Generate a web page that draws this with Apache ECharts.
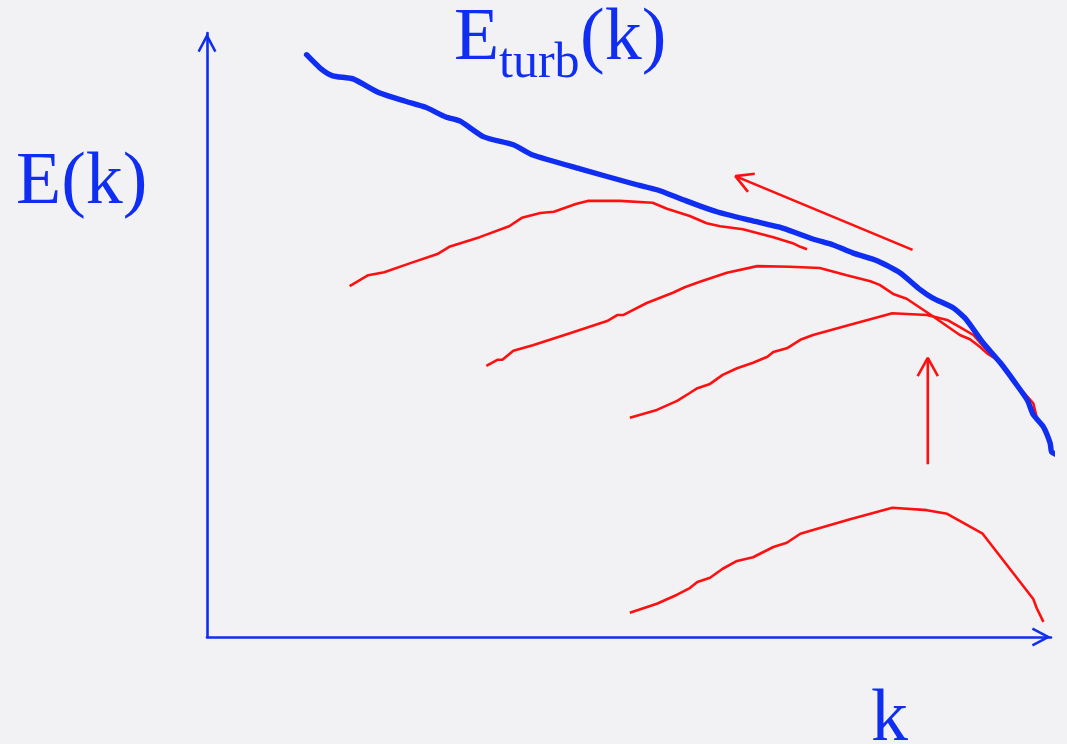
<!DOCTYPE html>
<html>
<head>
<meta charset="utf-8">
<script src="https://cdn.jsdelivr.net/npm/echarts@6/dist/echarts.min.js"></script>
<style>
  html, body { margin: 0; padding: 0; background: #f2f2f4; }
  #chart { width: 1067px; height: 744px; }
</style>
</head>
<body>
<div id="chart"></div>
<script>
// Energy spectra sketch: wavenumber k (0-100) against spectral energy E (0-100)

// Turbulent spectrum E_turb(k): [k, E]
const turbSpectrum = [
  [11.8, 96.4], [13.4, 94.2], [14.9, 92.9], [17.3, 92.4], [20.4, 90.1], [23.5, 88.7],
  [25.9, 87.7], [28.3, 86.1], [30.0, 85.4], [32.8, 82.8], [36.3, 81.5], [38.6, 79.8],
  [44.2, 77.5], [50.6, 75.0], [53.4, 74.0], [56.4, 72.4], [60.4, 70.4], [64.3, 69.0],
  [68.2, 67.7], [71.8, 65.9], [74.2, 64.9], [76.5, 63.6], [79.4, 62.3], [82.1, 60.3],
  [84.5, 57.5], [86.0, 56.1], [88.4, 54.5], [90.0, 52.5], [91.9, 48.8], [94.0, 45.4],
  [95.7, 42.2], [97.2, 39.2], [97.9, 36.8], [99.1, 34.8], [99.9, 32.1], [100.1, 30.6],
  [101.4, 29.8]
];

// Transient spectra, from the latest (top) to the initial (bottom)
const spectrumA = [
  [16.9, 58.1], [19.1, 59.9], [21.0, 60.4], [24.1, 61.9], [27.3, 63.4], [28.7, 64.6],
  [32.3, 66.2], [35.8, 68.0], [37.3, 69.4], [39.5, 70.2], [41.1, 70.4], [43.7, 71.7],
  [45.1, 72.2], [48.9, 72.2], [52.8, 71.9], [54.5, 70.9], [57.2, 69.7], [59.2, 68.5],
  [60.8, 68.0], [63.5, 67.5], [67.1, 66.2], [69.4, 65.2], [70.3, 64.6], [71.1, 64.2]
];
const spectrumB = [
  [33.1, 44.9], [34.4, 45.9], [35.0, 45.9], [36.3, 47.4], [38.6, 48.3], [43.0, 50.3],
  [47.4, 52.3], [48.6, 53.3], [49.3, 53.3], [52.1, 55.3], [55.2, 57.0], [56.6, 57.9],
  [58.4, 58.8], [61.6, 60.3], [65.2, 61.4], [69.1, 61.3], [72.6, 61.1], [75.8, 59.9],
  [78.6, 58.9], [79.7, 58.3], [81.3, 56.8], [82.9, 56.0], [86.0, 53.1], [89.2, 50.0],
  [90.4, 49.3], [91.6, 48.0], [92.4, 47.0], [93.6, 45.9], [95.5, 42.5]
];
const spectrumC = [
  [50.1, 36.3], [53.3, 37.6], [55.7, 39.1], [57.2, 40.4], [58.1, 41.2], [59.6, 41.9],
  [61.1, 43.4], [62.8, 44.5], [64.7, 45.4], [66.4, 46.4], [67.1, 47.2], [68.7, 47.8],
  [70.3, 49.2], [71.8, 50.0], [76.2, 51.7], [81.2, 53.6], [85.3, 53.3], [87.7, 52.5],
  [89.2, 51.3], [90.8, 50.0], [92.4, 47.5], [93.6, 45.9], [95.5, 42.5], [97.9, 38.7],
  [98.3, 36.4]
];
const spectrumD = [
  [50.1, 4.0], [53.3, 5.5], [55.7, 7.0], [57.2, 8.1], [58.1, 9.1], [59.6, 9.8],
  [61.1, 11.3], [62.8, 12.6], [64.7, 13.2], [66.4, 14.4], [67.1, 14.9], [68.7, 15.6],
  [70.3, 17.1], [71.8, 17.7], [76.2, 19.5], [81.2, 21.4], [85.3, 21.0], [87.7, 20.4],
  [91.9, 17.1], [97.9, 6.3], [98.3, 4.8], [99.1, 2.5]
];

// Arrows: inverse cascade (towards small k) and growth of the spectrum
const cascadeShaft = [[83.6, 64.1], [62.6, 76.3]];
const cascadeHead = [[64.9, 76.7], [62.6, 76.3], [64.1, 73.7]];
const growthShaft = [[85.4, 28.6], [85.4, 46.2]];
const growthHead = [[84.2, 43.2], [85.4, 46.2], [86.6, 43.2]];

// Labels
const yLabel = 'E(k)';
const xLabel = 'k';
const turbLabel = ['E', 'turb', '(k)'];

const BLUE = '#0f2ef2';
const RED = '#ff1010';
const SERIF = '"Liberation Serif", "DejaVu Serif", serif';

// Open chevron used as the arrow tip of both axes (points up before rotation)
const chevron = 'path://M0,0 L9.5,18 L7.3,19.2 L0,5.4 L-7.3,19.2 L-9.5,18 Z';

function redLine(name, data, width) {
  return {
    name: name, type: 'line', data: data, showSymbol: false, clip: false,
    lineStyle: { color: RED, width: width || 2.6 }, z: 2
  };
}

function hiddenAxis() {
  return {
    type: 'value', min: 0, max: 100,
    axisLine: {
      show: true, onZero: false,
      lineStyle: { color: BLUE, width: 2.6 },
      symbol: ['none', chevron], symbolSize: [19, 19.2], symbolOffset: [0, -9.6]
    },
    axisTick: { show: false },
    axisLabel: { show: false },
    splitLine: { show: false }
  };
}

const chart = echarts.init(document.getElementById('chart'), null, { renderer: 'canvas' });
chart.setOption({
  backgroundColor: '#f2f2f4',
  animation: false,
  grid: { left: 207, right: 16, top: 33, bottom: 107 },
  xAxis: hiddenAxis(),
  yAxis: hiddenAxis(),
  series: [
    redLine('spectrumA', spectrumA),
    redLine('spectrumB', spectrumB),
    redLine('spectrumC', spectrumC),
    redLine('spectrumD', spectrumD),
    redLine('cascadeShaft', cascadeShaft),
    redLine('cascadeHead', cascadeHead),
    redLine('growthShaft', growthShaft),
    redLine('growthHead', growthHead),
    {
      name: 'E_turb', type: 'line', data: turbSpectrum, showSymbol: false, clip: false,
      smooth: 0.2,
      lineStyle: { color: BLUE, width: 5.4, cap: 'round', join: 'round' }, z: 3
    }
  ],
  graphic: [
    { type: 'text', left: 16, top: 147,
      style: { text: yLabel, font: '74px ' + SERIF, fill: BLUE } },
    { type: 'text', left: 871, top: 684,
      style: { text: xLabel, font: '74px ' + SERIF, fill: BLUE } },
    { type: 'text', left: 454, top: 3,
      style: { text: turbLabel[0], font: '74px ' + SERIF, fill: BLUE } },
    { type: 'text', left: 499, top: 39,
      style: { text: turbLabel[1], font: '50px ' + SERIF, fill: BLUE } },
    { type: 'text', left: 580, top: 3,
      style: { text: turbLabel[2], font: '74px ' + SERIF, fill: BLUE } }
  ]
});
</script>
</body>
</html>
